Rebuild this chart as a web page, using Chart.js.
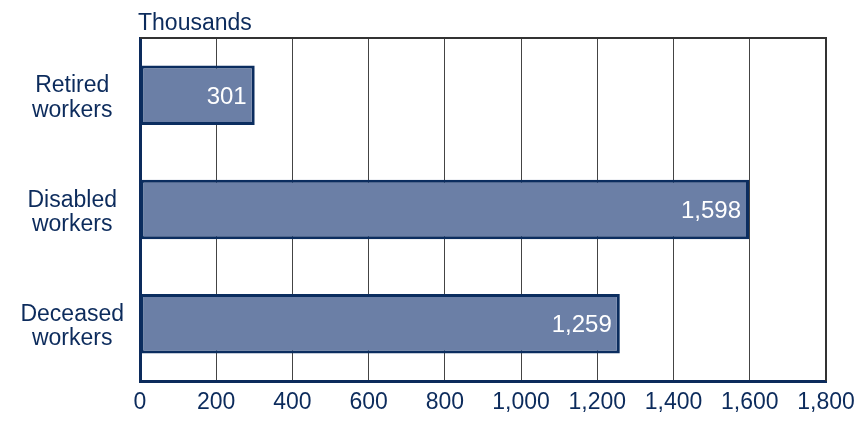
<!DOCTYPE html>
<html>
<head>
<meta charset="utf-8">
<script src="https://cdn.jsdelivr.net/npm/chart.js@4"></script>
<style>
  html, body { margin: 0; padding: 0; background: #fff; }
  #wrap { width: 857px; height: 425px; }
</style>
</head>
<body>
<div id="wrap"><canvas id="chart" width="857" height="425"></canvas></div>
<script>
// categories and values (thousands)
const categories = [['Retired', 'workers'], ['Disabled', 'workers'], ['Deceased', 'workers']];
const values = [301, 1598, 1259];
const xTicks = [0, 200, 400, 600, 800, 1000, 1200, 1400, 1600, 1800];
const unitLabel = 'Thousands';

const navy = '#0c2b5c';
const fnt = '"Liberation Sans", Arial, Helvetica, sans-serif';

// draws unit label, top/right frame and value labels inside bars
const extras = {
  id: 'extras',
  afterDatasetsDraw(chart) {
    const ctx = chart.ctx;
    const a = chart.chartArea;
    ctx.save();
    ctx.strokeStyle = '#333';
    ctx.lineWidth = 2;
    ctx.beginPath();
    ctx.moveTo(a.left, a.top);
    ctx.lineTo(a.right, a.top);
    ctx.lineTo(a.right, a.bottom);
    ctx.stroke();

    ctx.fillStyle = navy;
    ctx.font = '23px ' + fnt;
    ctx.textAlign = 'left';
    ctx.textBaseline = 'bottom';
    ctx.fillText(unitLabel, a.left - 2, a.top - 3);

    const meta = chart.getDatasetMeta(0);
    ctx.fillStyle = '#fff';
    ctx.font = '24px ' + fnt;
    ctx.textAlign = 'right';
    ctx.textBaseline = 'middle';
    meta.data.forEach((bar, i) => {
      ctx.fillText(values[i].toLocaleString('en-US'), bar.x - 8, bar.y + 2);
    });
    ctx.restore();
  }
};

new Chart(document.getElementById('chart'), {
  type: 'bar',
  data: {
    labels: categories,
    datasets: [{
      data: values,
      backgroundColor: '#6b7fa6',
      borderColor: '#0b2d5f',
      borderWidth: 3,
      borderSkipped: false,
      categoryPercentage: 1,
      barPercentage: 0.52
    }]
  },
  options: {
    indexAxis: 'y',
    responsive: false,
    animation: false,
    layout: { padding: { top: 38, right: 31, bottom: 0, left: 0 } },
    plugins: { legend: { display: false }, tooltip: { enabled: false } },
    scales: {
      x: {
        min: 0, max: 1800,
        afterBuildTicks: s => { s.ticks = xTicks.map(v => ({ value: v })); },
        afterFit: s => { s.height = 44; s.paddingLeft = 0; s.paddingRight = 0; },
        grid: { color: '#444', lineWidth: 1, drawTicks: false },
        border: { color: navy, width: 3 },
        ticks: {
          color: navy, padding: 8, maxRotation: 0,
          font: { family: fnt, size: 23 },
          callback: v => v.toLocaleString('en-US')
        }
      },
      y: {
        afterFit: s => { s.width = 140; s.paddingTop = 0; s.paddingBottom = 0; },
        grid: { display: false, drawTicks: false },
        border: { color: navy, width: 3 },
        ticks: {
          color: navy, padding: 16, crossAlign: 'center', labelOffset: 3,
          font: { family: fnt, size: 23, lineHeight: 1.05 }
        }
      }
    }
  },
  plugins: [extras]
});
</script>
</body>
</html>
